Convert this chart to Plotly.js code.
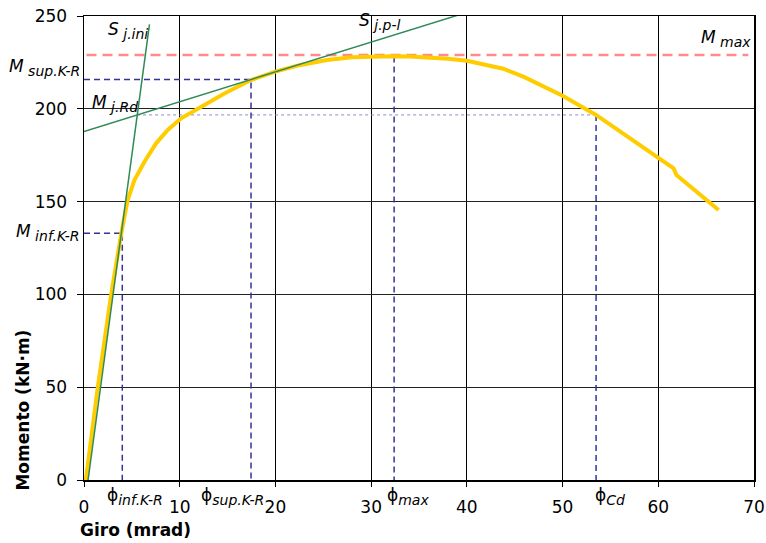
<!DOCTYPE html>
<html><head><meta charset="utf-8">
<script src="https://cdn.plot.ly/plotly-3.0.1.min.js"></script>
<style>html,body{margin:0;padding:0;background:#fff;}#chart{width:766px;height:543px;}</style>
</head><body><div id="chart"></div>
<script>
// Moment-rotation curve
const giro = [0.04, 0.19, 1.44, 2.84, 3.45, 3.9, 4.23, 4.57, 5.27, 6.32, 7.53, 8.75, 10.15, 12.2, 14.67, 17.45, 20.0, 22.5, 25.4, 28.0, 30.3, 32.4, 34.0, 36.0, 38.0, 40.0, 41.7, 43.8, 45.9, 48.35, 50.0, 53.5, 57.0, 60.0, 61.6, 61.9, 66.3];
const momento = [-6, 0, 50, 100, 120, 133, 142, 151, 161.6, 171.5, 181.4, 188.6, 194.9, 201.1, 208.3, 215.5, 220, 223.5, 226.3, 227.8, 228.2, 228.3, 228.2, 227.8, 227.0, 225.9, 224.2, 221.6, 217.3, 211.0, 207.0, 196.7, 184, 173.3, 167.9, 164.3, 145.5];
// stiffness lines
const sjiniX = [0.26, 6.84];
const sjiniY = [-6.3, 245.5];
const sjplX = [0.0, 39.1];
const sjplY = [187.8, 250.5];
// characteristic values
const mMax = 229;
const mMaxX = [0.26, 69.4];
const phiInf = 4.0, mInf = 133;
const phiSup = 17.45, mSup = 215.8;
const phiMax = 32.4, mAtPhiMax = 228.2;
const phiCd = 53.5, mjRd = 196.7;
const mjRdStart = 5.55;
const xTicks = [0, 10, 20, 30, 40, 50, 60, 70];
const yTicks = [0, 50, 100, 150, 200, 250];

const navy = '#33339a';
const dashNavy = {color: navy, width: 1.5, dash: '6px,4px'};
const traces = [
  {x: mMaxX, y: [mMax, mMax], mode: 'lines', line: {color: '#ff8a8a', width: 2.5, dash: '10px,6px'}, hoverinfo: 'skip'},
  {x: [mjRdStart, phiCd], y: [mjRd, mjRd], mode: 'lines', line: {color: '#8c8cd0', width: 1, dash: 'dot'}, hoverinfo: 'skip'},
  {x: [0, phiInf, phiInf], y: [mInf, mInf, 0], mode: 'lines', line: dashNavy, hoverinfo: 'skip'},
  {x: [0, phiSup, phiSup], y: [mSup, mSup, 0], mode: 'lines', line: dashNavy, hoverinfo: 'skip'},
  {x: [phiMax, phiMax], y: [mAtPhiMax, 0], mode: 'lines', line: dashNavy, hoverinfo: 'skip'},
  {x: [phiCd, phiCd], y: [mjRd, 0], mode: 'lines', line: dashNavy, hoverinfo: 'skip'},
  {x: giro, y: momento, mode: 'lines', line: {color: '#ffcc00', width: 4}},
  {x: sjiniX, y: sjiniY, mode: 'lines', line: {color: '#2e8b57', width: 1.5}},
  {x: sjplX, y: sjplY, mode: 'lines', line: {color: '#2e8b57', width: 1.5}}
];

const fam = 'DejaVu Sans, sans-serif';
const lab = (t) => '<i>' + t[0] + '</i><sub><span style="font-size:14px"><i>\u00a0' + t[1] + '</i></span></sub>';
const phi = (s) => '\u03d5<sub><span style="font-size:14px"><i>' + s + '</i></span></sub>';
const annotations = [
  {xref: 'x', yref: 'y', x: 2.35, y: 242, xanchor: 'left', yanchor: 'middle', text: lab(['S', 'j.ini'])},
  {xref: 'x', yref: 'y', x: 28.55, y: 246.8, xanchor: 'left', yanchor: 'middle', text: lab(['S', 'j.p-l'])},
  {xref: 'x', yref: 'y', x: 69.9, y: 238, xanchor: 'right', yanchor: 'middle', text: lab(['M', 'max'])},
  {xref: 'paper', yref: 'y', x: -0.003, y: 222, xanchor: 'right', yanchor: 'middle', text: lab(['M', 'sup.K-R'])},
  {xref: 'x', yref: 'y', x: 0.6, y: 202.6, xanchor: 'left', yanchor: 'middle', text: lab(['M', 'j.Rd'])},
  {xref: 'paper', yref: 'y', x: -0.003, y: 133.6, xanchor: 'right', yanchor: 'middle', text: lab(['M', 'inf.K-R'])},
  {xref: 'x', yref: 'paper', x: 2.24, y: 0, yshift: -16, xanchor: 'left', yanchor: 'middle', text: phi('inf.K-R'), font: {size: 17}},
  {xref: 'x', yref: 'paper', x: 11.98, y: 0, yshift: -16, xanchor: 'left', yanchor: 'middle', text: phi('sup.K-R'), font: {size: 17}},
  {xref: 'x', yref: 'paper', x: 31.47, y: 0, yshift: -16, xanchor: 'left', yanchor: 'middle', text: phi('max'), font: {size: 17}},
  {xref: 'x', yref: 'paper', x: 53.2, y: 0, yshift: -16, xanchor: 'left', yanchor: 'middle', text: phi('Cd'), font: {size: 17}},
  {xref: 'paper', yref: 'paper', x: -0.0097, y: 0, yshift: -50, xanchor: 'left', yanchor: 'middle', text: '<b>Giro (mrad)</b>', font: {size: 17}},
  {xref: 'paper', yref: 'paper', x: -0.0917, y: 0.1509, xanchor: 'center', yanchor: 'middle', textangle: -90, text: '<b>Momento (kN\u00b7m)</b>', font: {size: 17}}
].map(a => Object.assign({showarrow: false}, a, {font: Object.assign({family: fam, color: '#000', size: 17}, a.font || {})}));

const layout = {
  width: 766, height: 543,
  margin: {l: 84, r: 12, t: 16, b: 63},
  paper_bgcolor: '#fff', plot_bgcolor: '#fff',
  showlegend: false,
  font: {family: fam, color: '#000', size: 17},
  xaxis: {range: [0, 70], tickvals: xTicks, showgrid: true, gridcolor: '#000', gridwidth: 1,
    showline: true, linecolor: '#000', linewidth: 1.5, mirror: true, ticks: 'outside', ticklen: 5, tickcolor: '#000',
    zeroline: false, tickfont: {size: 17}, ticklabelstandoff: 6},
  yaxis: {range: [0, 250], tickvals: yTicks, showgrid: true, gridcolor: '#222', gridwidth: 1,
    showline: true, linecolor: '#000', linewidth: 1.5, mirror: true, ticks: 'outside', ticklen: 6, tickcolor: '#000',
    zeroline: false, tickfont: {size: 17}, ticklabelstandoff: 6},
  annotations: annotations
};
Plotly.newPlot('chart', traces, layout, {displayModeBar: false, staticPlot: true});
</script></body></html>
